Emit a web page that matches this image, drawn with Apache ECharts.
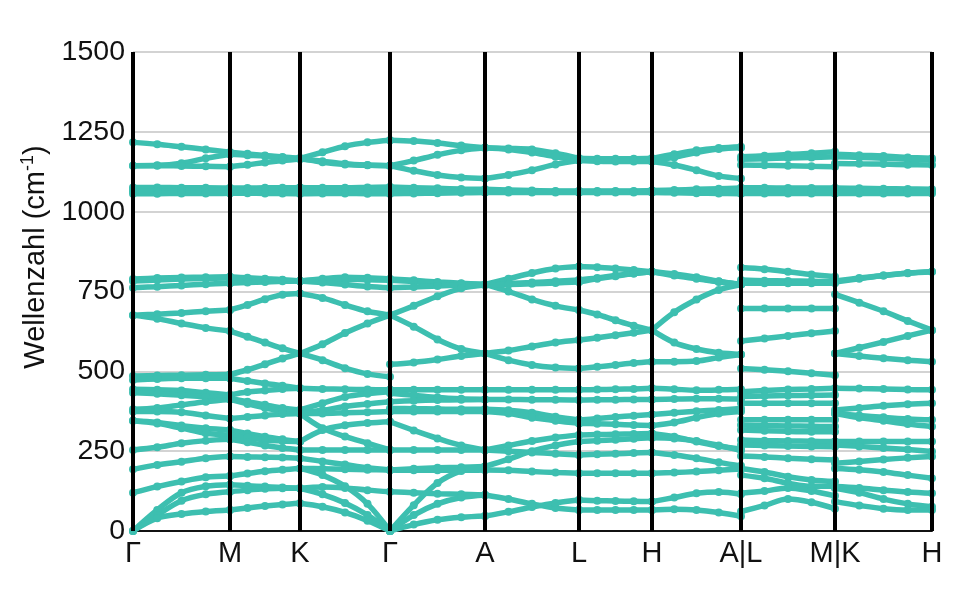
<!DOCTYPE html>
<html><head><meta charset="utf-8">
<script src="https://cdn.jsdelivr.net/npm/echarts@6/dist/echarts.min.js"></script>
<style>html,body{margin:0;padding:0;background:#fff}#c{width:968px;height:593px}</style>
</head><body><div id="c"></div>
<script>
// High-symmetry points (labels and path positions)
const pointLabels = ['Γ','M','K','Γ','A','L','H','A|L','M|K','H'];
const pointPos = [0, 97, 167, 257, 352, 446, 519, 608, 702, 799];
// sample positions within each segment (fraction of segment)
const fractions = [0, 0.25, 0.5, 0.75, 1];

// Band values (cm^-1) read at the sample positions of each segment
const segGM = [
  [1217,1211,1203,1195,1186],[1144,1145,1152,1167,1180],[1144,1144,1143,1142,1141],
  [1076,1076,1075,1075,1074],[1069,1069,1068,1068,1068],[1063,1063,1063,1062,1062],[1056,1056,1057,1057,1058],
  [789,792,794,795,796],[783,786,789,791,792],[762,765,769,773,776],
  [676,679,683,688,692],[676,665,650,636,626],[485,487,488,489,490],
  [473,476,478,478,478],[444,442,440,433,426],[433,430,425,420,415],[381,385,395,405,412],
  [374,374,372,362,352],[345,340,330,322,316],[345,337,322,306,300],[254,262,275,283,287],
  [193,207,217,228,233],[120,139,155,168,172],[0,66,120,140,145],[0,50,95,115,123],[0,40,53,61,66]
];
const segMK = [
  [1186,1181,1176,1171,1167],[1180,1177,1174,1170,1167],[1141,1147,1154,1160,1165],
  [1074,1074,1075,1075,1076],[1068,1068,1069,1069,1070],[1062,1062,1062,1063,1063],[1058,1058,1057,1057,1056],
  [796,793,790,787,783],[792,790,788,785,783],[776,778,780,782,783],
  [692,708,726,740,744],[626,608,590,572,556],[490,505,522,540,556],
  [478,470,462,455,447],[426,435,440,445,447],[415,405,395,385,379],[412,398,385,376,370],
  [352,357,362,366,368],[316,305,295,287,280],[300,292,285,282,280],[287,278,268,260,254],
  [233,232,231,230,228],[172,180,187,192,196],[145,142,139,136,134],[123,128,132,134,134],[66,72,78,83,87]
];
const segKG = [
  [1167,1186,1205,1217,1224],[1167,1155,1148,1145,1144],[1165,1158,1150,1146,1144],
  [1076,1075,1075,1076,1077],[1070,1069,1069,1070,1070],[1063,1063,1062,1063,1063],[1056,1057,1057,1056,1056],
  [783,790,795,793,789],[783,786,788,787,785],[783,778,772,766,762],
  [744,730,708,688,676],[556,535,510,492,483],[556,585,620,650,676],
  [447,445,444,443,442],[379,400,420,430,436],[370,378,390,398,405],[368,368,370,372,374],
  [368,322,296,275,254],[280,316,331,338,342],[254,254,254,254,254],[228,218,208,198,191],
  [196,195,193,192,191],[134,138,135,128,123],[196,175,140,85,0],[134,115,88,50,0],[87,76,58,32,0]
];
const segGA = [
  [1224,1221,1215,1207,1200],[1144,1160,1178,1192,1200],[1144,1128,1115,1107,1104],
  [1077,1075,1073,1071,1070],[1070,1068,1067,1066,1065],[1063,1063,1062,1062,1062],[1056,1057,1058,1059,1060],
  [789,785,780,776,772],[785,781,777,774,772],[762,764,767,770,772],
  [676,705,735,760,770],[676,640,600,570,556],[522,528,537,548,556],
  [442,442,442,442,442],[431,425,418,414,412],[405,408,410,411,412],[384,383,382,381,381],
  [374,374,374,374,374],[342,315,290,268,254],[254,254,254,254,254],[191,195,198,200,202],
  [191,190,190,190,191],[123,120,117,115,113],[0,81,150,188,202],[0,50,85,105,113],[0,20,35,43,47]
];
const segAL = [
  [1200,1198,1195,1183,1167],[1200,1195,1185,1172,1162],[1104,1115,1130,1148,1160],
  [1070,1068,1066,1065,1065],[1065,1064,1063,1063,1063],[1062,1062,1062,1062,1062],[1060,1060,1060,1060,1060],
  [772,790,808,822,828],[772,775,778,782,786],[772,750,725,705,692],[770,772,774,777,780],
  [556,565,578,590,598],[556,535,520,512,509],
  [442,442,442,442,442],[412,412,411,411,410],[381,378,370,358,348],[374,368,355,345,337],
  [254,268,282,293,301],[254,250,246,242,238],[202,225,250,268,280],[191,190,186,183,181],
  [113,100,85,72,66],[47,60,75,88,97]
];
const segLH = [
  [1167,1166,1166,1166,1167],[1162,1161,1160,1160,1160],[1160,1158,1157,1157,1157],
  [1065,1065,1065,1065,1066],[1063,1063,1063,1063,1064],[1062,1062,1062,1062,1062],[1060,1060,1060,1060,1060],
  [828,826,822,817,812],[786,792,800,806,812],[780,790,798,806,812],
  [692,678,660,643,629],[598,605,613,621,629],[509,514,520,526,530],
  [442,443,444,445,447],[410,411,411,412,412],[348,352,357,361,365],[337,336,334,332,330],
  [301,302,303,304,305],[280,283,286,289,292],[238,240,242,244,246],[181,181,181,181,181],
  [97,95,94,93,92],[66,66,66,66,66]
];
const segHA = [
  [1167,1180,1192,1199,1203],[1160,1170,1185,1196,1200],[1157,1146,1130,1112,1104],
  [1066,1068,1070,1072,1074],[1064,1065,1066,1067,1068],[1062,1062,1062,1062,1062],[1060,1059,1058,1057,1056],
  [812,805,795,782,772],[812,800,790,780,772],[812,802,792,781,772],
  [629,685,725,755,772],[629,590,570,558,553],[530,530,532,543,553],
  [447,444,441,442,444],[412,413,414,414,413],[365,370,375,379,384],[330,340,355,368,374],
  [305,295,280,266,256],[292,290,282,268,252],[246,238,228,215,204],[181,183,186,190,194],
  [92,105,118,122,115],[66,68,66,58,46]
];
const segLM = [
  [1172,1175,1179,1183,1188],[1164,1166,1168,1170,1172],[1146,1145,1144,1142,1141],
  [1075,1075,1074,1074,1074],[1068,1068,1068,1068,1068],[1062,1062,1062,1062,1062],[1057,1057,1057,1057,1057],
  [825,820,812,803,796],[786,784,783,782,781],[776,776,776,776,776],
  [697,697,697,697,697],[595,603,611,619,626],[509,505,500,494,488],
  [436,440,443,445,447],[421,423,424,425,426],[400,400,400,400,400],[348,348,348,348,348],
  [332,330,329,328,327],[316,314,312,311,311],[285,283,282,281,280],[269,268,266,265,264],
  [235,232,228,225,222],[196,185,170,160,155],[175,165,150,140,140],[118,125,135,125,110],[61,80,100,90,70]
];
const segKH = [
  [1180,1177,1174,1170,1167],[1172,1170,1167,1164,1162],[1151,1150,1149,1147,1146],
  [1074,1073,1072,1071,1070],[1068,1067,1066,1065,1064],[1062,1062,1062,1062,1062],[1057,1057,1057,1057,1057],
  [780,790,800,808,812],[783,792,800,807,812],[741,715,688,658,629],
  [556,574,592,611,629],[556,548,541,535,530],
  [447,446,445,443,442],[379,385,392,397,400],[368,362,356,351,348],[368,355,345,335,327],
  [280,280,280,280,280],[269,265,260,255,249],[212,218,224,229,233],[196,192,185,175,165],
  [139,135,128,122,118],[134,120,100,85,76],[92,80,70,66,66]
];
const yTicks = [0, 250, 500, 750, 1000, 1250, 1500];

const segments = [
  [0,1,segGM],[1,2,segMK],[2,3,segKG],[3,4,segGA],[4,5,segAL],
  [5,6,segLH],[6,7,segHA],[7,8,segLM],[8,9,segKH]
];

const teal = '#3dbfb0';
const series = [];
series.push({
  type:'line', data:[], z:1, silent:true, animation:false,
  markLine:{silent:true, symbol:'none', animation:false, label:{show:false},
    lineStyle:{color:'#000', width:4, type:'solid'},
    data: pointPos.map(p => ({xAxis:p}))}
});
segments.forEach(([a,b,bands]) => {
  const x0 = pointPos[a], x1 = pointPos[b];
  bands.forEach(vals => {
    series.push({
      type:'line', z:3, silent:true, animation:false, smooth:0.35,
      data: vals.map((v,i) => [x0 + (x1-x0)*fractions[i], v]),
      symbol:'circle', symbolSize:8, showSymbol:true,
      lineStyle:{color:teal, width:5.5}, itemStyle:{color:teal}
    });
  });
});

const font = 'Liberation Sans, Arial, sans-serif';
const chart = echarts.init(document.getElementById('c'), null, {renderer:'canvas'});
chart.setOption({
  backgroundColor:'#fff',
  animation:false,
  grid:{left:133, right:36, top:52, bottom:62, containLabel:false},
  xAxis:{
    type:'value', min:0, max:pointPos[pointPos.length-1],
    axisLine:{show:true, lineStyle:{color:'#111', width:2}},
    axisTick:{show:false},
    splitLine:{show:false},
    axisLabel:{
      customValues: pointPos,
      formatter: v => { const i = pointPos.indexOf(v); return i >= 0 ? pointLabels[i] : ''; },
      fontSize:29, color:'#111', fontFamily:font, margin:8,
      showMinLabel:true, showMaxLabel:true, hideOverlap:false
    }
  },
  yAxis:{
    type:'value', min:0, max:1500, interval:250,
    axisLine:{show:false}, axisTick:{show:false},
    splitLine:{show:true, lineStyle:{color:'#c4c4c4', width:1.5}},
    axisLabel:{fontSize:28.5, color:'#111', fontFamily:font, margin:8,
      customValues: yTicks, formatter: v => String(v)}
  },
  graphic:[{
    type:'text', x:36, y:257, rotation:Math.PI/2,
    style:{
      text:'{a|Wellenzahl (cm}{s|-1}{a|)}',
      align:'center', verticalAlign:'middle',
      rich:{
        a:{fontSize:29, fontFamily:font, fill:'#111', lineHeight:34},
        s:{fontSize:18, fontFamily:font, fill:'#111', verticalAlign:'top', lineHeight:34}
      }
    }
  }],
  series: series
});
</script>
</body></html>
